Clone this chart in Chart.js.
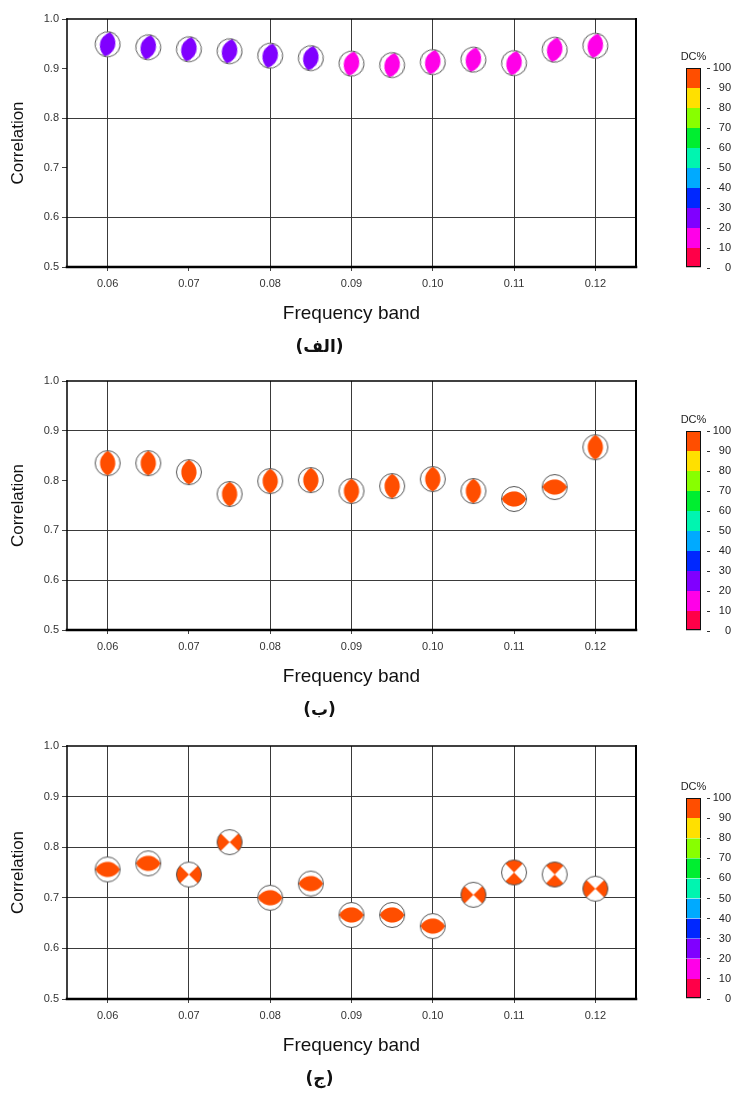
<!DOCTYPE html>
<html>
<head>
<meta charset="utf-8">
<script src="https://cdn.jsdelivr.net/npm/chart.js@4.4.1/dist/chart.umd.min.js"></script>
<style>
  body { margin: 0; background: #fff; width: 731px; height: 1097px; position: relative; overflow: hidden; }
  canvas { position: absolute; }
</style>
</head>
<body>
<canvas id="chartA" width="650" height="365" style="left:0;top:0"></canvas>
<canvas id="chartB" width="650" height="365" style="left:0;top:363px"></canvas>
<canvas id="chartC" width="650" height="369" style="left:0;top:728px"></canvas>
<canvas id="barA" width="55" height="240" style="left:676px;top:40px"></canvas>
<canvas id="barB" width="55" height="240" style="left:676px;top:403px"></canvas>
<canvas id="barC" width="55" height="241" style="left:676px;top:770px"></canvas>
<script>
// data
const freq = [0.06, 0.065, 0.07, 0.075, 0.08, 0.085, 0.09, 0.095, 0.10, 0.105, 0.11, 0.115, 0.12];
const corrA = [0.949, 0.943, 0.939, 0.935, 0.926, 0.921, 0.910, 0.907, 0.913, 0.918, 0.911, 0.938, 0.946];
const corrB = [0.835, 0.835, 0.817, 0.773, 0.799, 0.801, 0.779, 0.789, 0.803, 0.779, 0.763, 0.787, 0.867];
const corrC = [0.756, 0.768, 0.746, 0.810, 0.700, 0.728, 0.666, 0.666, 0.644, 0.706, 0.750, 0.746, 0.718];
const dcA = [25, 25, 25, 25, 25, 25, 15, 15, 15, 15, 15, 15, 15];
const dcB = [95, 95, 95, 95, 95, 95, 95, 95, 95, 95, 95, 95, 95];
const dcC = [95, 95, 95, 95, 95, 95, 95, 95, 95, 95, 95, 95, 95];
// V/H = lens upright/lying, X = quadrants left-right, Y = quadrants top-bottom
const mechA = ['V', 'V', 'V', 'V', 'V', 'V', 'V', 'V', 'V', 'V', 'V', 'V', 'V'];
const mechB = ['V', 'V', 'V', 'V', 'V', 'V', 'V', 'V', 'V', 'V', 'H', 'H', 'V'];
const mechC = ['H', 'H', 'X', 'X', 'H', 'H', 'H', 'H', 'H', 'X', 'Y', 'Y', 'X'];

const xTicks = [0.06, 0.07, 0.08, 0.09, 0.10, 0.11, 0.12];
const yTicks = [0.5, 0.6, 0.7, 0.8, 0.9, 1.0];
const gridXA = [0.06, 0.08, 0.09, 0.10, 0.11, 0.12];
const gridYA = [0.8, 0.6];
const gridXB = [0.06, 0.08, 0.09, 0.10, 0.12];
const gridYB = [0.9, 0.7, 0.6];
const gridXC = [0.06, 0.07, 0.08, 0.09, 0.10, 0.11, 0.12];
const gridYC = [0.9, 0.8, 0.7, 0.6];

const dcEdges = [0, 10, 20, 30, 40, 50, 60, 70, 80, 90, 100];
const dcColors = ['#ff0048', '#ff00e8', '#8000ff', '#0028ff', '#00aaff', '#00f5b0', '#00ee30', '#88ff00', '#ffe000', '#ff4e00'];
const dcTicks = [0, 10, 20, 30, 40, 50, 60, 70, 80, 90, 100];

const FONT = "'Liberation Sans', Arial, sans-serif";

function dcColor(v) {
  const i = Math.min(dcColors.length - 1, Math.floor(v / 10));
  return dcColors[i];
}

function onList(list, v) {
  return v !== undefined && list.some(g => Math.abs(g - v) < 1e-6);
}

// beach ball symbol drawn into a small canvas, used as point style
function makeBall(kind, color) {
  const s = 30, c = s / 2, r = 12.5;
  const cv = document.createElement('canvas');
  cv.width = s; cv.height = s;
  const g = cv.getContext('2d');
  g.fillStyle = '#fff';
  g.beginPath(); g.arc(c, c, r, 0, Math.PI * 2); g.fill();
  g.fillStyle = color;
  g.beginPath();
  if (kind === 'lens') {
    const L = r - 0.3, w = 7.6;
    const R = (w * w + L * L) / (2 * w), d = R - w, th = Math.atan2(L, d);
    g.arc(c - d, c, R, -th, th);
    g.arc(c + d, c, R, Math.PI - th, Math.PI + th);
  } else {
    g.moveTo(c, c); g.arc(c, c, r, -Math.PI / 4, Math.PI / 4);
    g.moveTo(c, c); g.arc(c, c, r, 3 * Math.PI / 4, 5 * Math.PI / 4);
  }
  g.fill();
  g.strokeStyle = '#555'; g.lineWidth = 1;
  g.beginPath(); g.arc(c, c, r, 0, Math.PI * 2); g.stroke();
  return cv;
}

const framePlugin = {
  id: 'frame',
  defaults: { widths: null },
  afterDraw(chart, args, o) {
    const w = o.widths;
    if (!w) return;
    const { ctx, chartArea: a } = chart;
    ctx.save();
    ctx.strokeStyle = '#000';
    ctx.lineCap = 'square';
    const seg = (lw, x1, y1, x2, y2) => {
      ctx.lineWidth = lw; ctx.beginPath(); ctx.moveTo(x1, y1); ctx.lineTo(x2, y2); ctx.stroke();
    };
    seg(w[0], a.left, a.top, a.right, a.top);
    seg(w[1], a.right, a.top, a.right, a.bottom);
    seg(w[2], a.left, a.bottom, a.right, a.bottom);
    seg(w[3], a.left, a.top, a.left, a.bottom);
    ctx.restore();
  }
};
Chart.register(framePlugin);

function panelChart(id, corr, dc, mech, tilt, gridX, gridY, caption, lay) {
  const styles = mech.map((m, i) => makeBall(m === 'V' || m === 'H' ? 'lens' : 'quad', dcColor(dc[i])));
  const rots = mech.map(m => (m === 'H' || m === 'Y' ? 90 : 0) + tilt);
  new Chart(document.getElementById(id), {
    type: 'scatter',
    data: {
      datasets: [{
        data: freq.map((f, i) => ({ x: f, y: corr[i] })),
        pointStyle: styles,
        rotation: rots,
        pointRadius: 13,
        showLine: false
      }]
    },
    options: {
      responsive: false,
      animation: false,
      events: [],
      layout: { padding: { top: lay.top, right: 11, left: 0, bottom: 0 } },
      plugins: {
        legend: { display: false },
        tooltip: { enabled: false },
        title: {
          display: true, position: 'bottom', text: caption, color: '#111',
          font: { family: "'DejaVu Sans', sans-serif", size: 17, weight: 'bold' },
          padding: { top: 0, bottom: lay.capPad }
        },
        frame: { widths: [1.5, 2, 2.5, 1.5] }
      },
      scales: {
        x: {
          type: 'linear', min: 0.055, max: 0.125,
          afterBuildTicks: s => { s.ticks = xTicks.map(v => ({ value: v })); },
          afterFit: s => { s.height = 70.8; },
          border: { display: false },
          grid: {
            color: c => onList(gridX, c.tick && c.tick.value) ? '#3a3a3a' : 'rgba(0,0,0,0)',
            tickColor: '#444', tickLength: 4, lineWidth: 1
          },
          ticks: { color: '#333', padding: 6, font: { family: FONT, size: 11 }, callback: v => v.toFixed(2) },
          title: {
            display: true, text: 'Frequency band', color: '#111',
            font: { family: FONT, size: 19 }, padding: { top: 0, bottom: 12.4 }
          }
        },
        y: {
          type: 'linear', min: 0.5, max: 1.0,
          afterBuildTicks: s => { s.ticks = yTicks.map(v => ({ value: v })); },
          afterFit: s => { s.width = 67; },
          border: { display: false },
          grid: {
            color: c => onList(gridY, c.tick && c.tick.value) ? '#3a3a3a' : 'rgba(0,0,0,0)',
            tickColor: '#444', tickLength: 5, lineWidth: 1
          },
          ticks: { color: '#333', padding: 3, font: { family: FONT, size: 11 }, callback: v => v.toFixed(1) },
          title: {
            display: true, text: 'Correlation', color: '#111',
            font: { family: FONT, size: 17 }, padding: { top: 7.8, bottom: 0 }
          }
        }
      }
    }
  });
}

function colorBar(id, padBottom) {
  const last = dcColors.length - 1;
  new Chart(document.getElementById(id), {
    type: 'bar',
    data: {
      labels: [''],
      datasets: dcColors.map((col, i) => ({
        data: [[dcEdges[i], dcEdges[i + 1]]],
        backgroundColor: col,
        borderColor: '#111',
        borderSkipped: false,
        borderWidth: { left: 1, right: 1, top: i === last ? 1 : 0, bottom: i === 0 ? 1.5 : 0 },
        barPercentage: 0.556, categoryPercentage: 1, grouped: false
      }))
    },
    options: {
      responsive: false,
      animation: false,
      events: [],
      layout: { padding: { top: 10.8, left: 4, right: 0, bottom: padBottom } },
      plugins: {
        legend: { display: false },
        tooltip: { enabled: false },
        title: {
          display: true, text: 'DC%', position: 'top', fullSize: false, color: '#222',
          font: { family: FONT, size: 11, weight: 'normal' }, padding: { top: 0, bottom: 4 }
        }
      },
      scales: {
        x: { display: false },
        y: {
          position: 'right', min: 0, max: 100,
          afterBuildTicks: s => { s.ticks = dcTicks.map(v => ({ value: v })); },
          afterFit: s => { s.width = 24; },
          border: { display: false },
          grid: { drawOnChartArea: false, tickLength: 3, color: '#333' },
          ticks: { color: '#222', padding: 1, crossAlign: 'far', font: { family: FONT, size: 11 } }
        }
      }
    }
  });
}

panelChart('chartA', corrA, dcA, mechA, 12, gridXA, gridYA, '(الف)', { top: 19, capPad: 6.8 });
panelChart('chartB', corrB, dcB, mechB, 0, gridXB, gridYB, '(ب)', { top: 18, capPad: 6.8 });
panelChart('chartC', corrC, dcC, mechC, 0, gridXC, gridYC, '(ج)', { top: 18, capPad: 6.8 });
colorBar('barA', 12);
colorBar('barB', 12);
colorBar('barC', 12);
</script>
</body>
</html>
